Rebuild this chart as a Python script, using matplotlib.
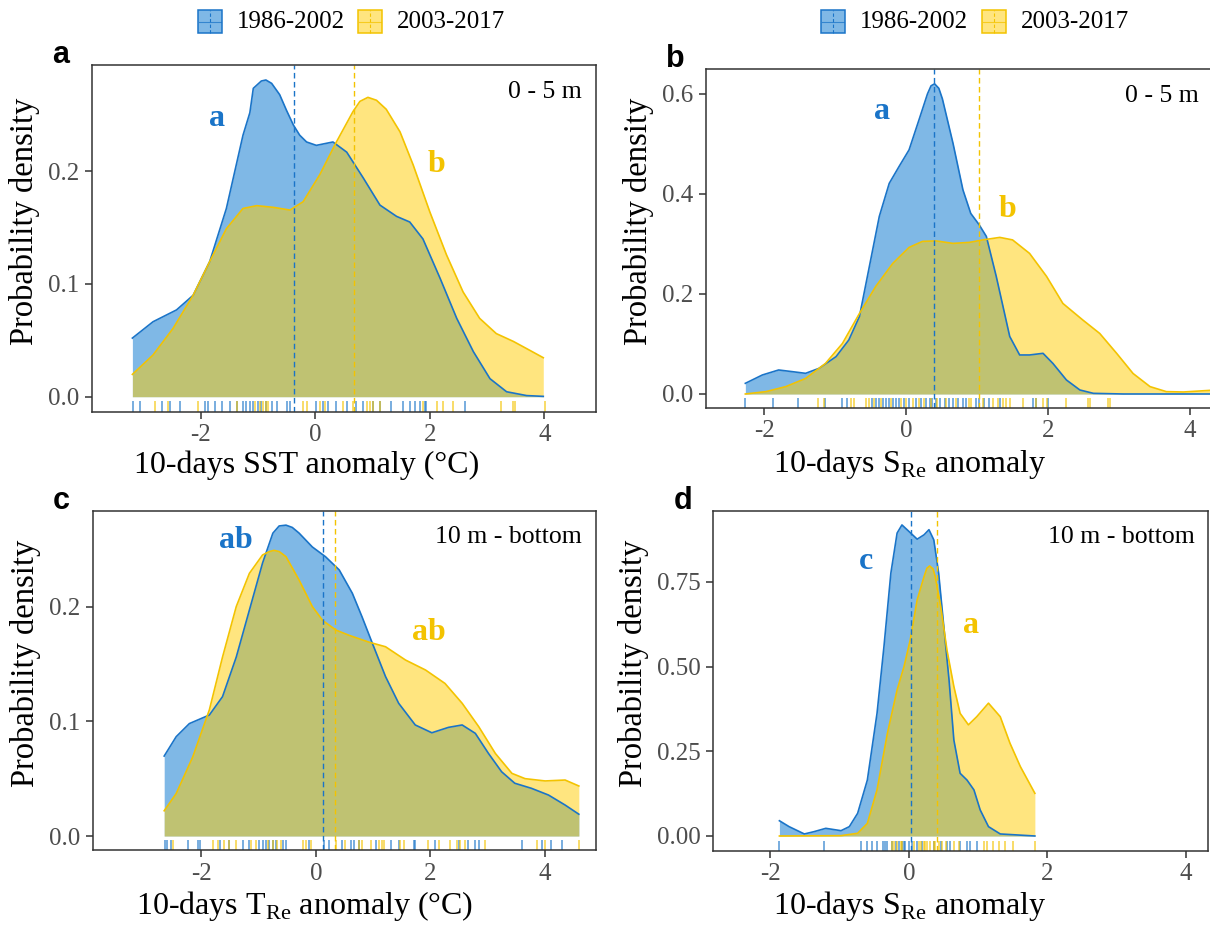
import numpy as np
import matplotlib
matplotlib.use("Agg")
import matplotlib.pyplot as plt
from matplotlib.patches import Rectangle
from matplotlib.lines import Line2D

plt.rcParams['font.family'] = ['Liberation Serif', 'DejaVu Serif']
plt.rcParams['mathtext.fontset'] = 'custom'
plt.rcParams['mathtext.rm'] = 'Liberation Serif'
plt.rcParams['axes.unicode_minus'] = False

periods = ['1986-2002', '2003-2017']

# --- a: SST, 0-5 m (density curves)
a_x_early = [-3.19, -2.83, -2.42, -2.13, -1.84, -1.55, -1.26, -1.14, -1.08, -0.94, -0.86, -0.76,
             -0.62, -0.50, -0.38, -0.27, -0.15, 0.02, 0.31, 0.55, 0.84, 1.13, 1.42, 1.65, 1.88,
             2.18, 2.47, 2.76, 3.05, 3.34, 3.69, 3.98]
a_y_early = [0.052, 0.0665, 0.077, 0.090, 0.120, 0.167, 0.232, 0.252, 0.2736, 0.2801, 0.281, 0.278,
             0.268, 0.254, 0.241, 0.232, 0.226, 0.223, 0.226, 0.217, 0.194, 0.170, 0.160, 0.155,
             0.140, 0.105, 0.0695, 0.040, 0.016, 0.0044, 0.001, 0.0003]
a_x_late = [-3.19, -2.83, -2.48, -2.13, -1.84, -1.55, -1.26, -1.02, -0.73, -0.44, -0.21, 0.08, 0.37,
            0.66, 0.78, 0.92, 1.07, 1.24, 1.48, 1.71, 2.00, 2.29, 2.58, 2.87, 3.16, 3.46, 3.75, 3.98]
a_y_late = [0.0198, 0.037, 0.0606, 0.090, 0.120, 0.149, 0.167, 0.1695, 0.168, 0.1656, 0.173, 0.197,
            0.226, 0.253, 0.262, 0.2656, 0.263, 0.255, 0.235, 0.2056, 0.164, 0.126, 0.093, 0.0695,
            0.056, 0.049, 0.041, 0.0346]
a_rug_early = [-3.18, -3.06, -2.68, -2.54, -2.36, -1.93, -1.87, -1.75, -1.63, -1.49, -1.37, -1.26,
               -1.20, -1.14, -1.08, -0.99, -0.94, -0.85, -0.76, -0.67, -0.50, -0.44, 0.02, 0.14,
               0.23, 0.37, 0.55, 0.72, 0.84, 1.01, 1.13, 1.33, 1.54, 1.65, 1.74, 1.83, 1.91, 1.94, 2.61]
a_rug_late = [-2.80, -2.57, -2.04, -1.37, -1.05, -0.97, -0.91, -0.85, -0.82, -0.21, -0.15, 0.08,
              0.17, 0.49, 0.66, 0.90, 0.95, 1.01, 1.13, 1.88, 2.12, 2.23, 2.41, 3.25, 3.46, 3.48, 4.01]
a_means = [-0.37, 0.68]

# --- b: S_Re, 0-5 m
b_x_early = [-2.27, -2.03, -1.80, -1.61, -1.42, -1.23, -0.99, -0.81, -0.66, -0.52, -0.38, -0.24,
             -0.10, 0.04, 0.18, 0.30, 0.35, 0.40, 0.46, 0.51, 0.66, 0.80, 0.91, 1.03, 1.13, 1.27,
             1.46, 1.60, 1.74, 1.93, 2.07, 2.26, 2.45, 2.64, 3.06, 4.29]
b_y_early = [0.0213, 0.038, 0.048, 0.0447, 0.0413, 0.0513, 0.0747, 0.108, 0.155, 0.255, 0.355, 0.421,
             0.455, 0.488, 0.548, 0.600, 0.616, 0.620, 0.611, 0.590, 0.501, 0.408, 0.361, 0.338,
             0.315, 0.235, 0.115, 0.078, 0.078, 0.0813, 0.061, 0.028, 0.008, 0.0013, 0.0, 0.0]
b_x_late = [-2.27, -1.98, -1.70, -1.42, -1.14, -0.90, -0.66, -0.43, -0.19, 0.04, 0.23, 0.42, 0.66,
            0.89, 1.08, 1.32, 1.50, 1.74, 1.98, 2.21, 2.49, 2.73, 2.97, 3.20, 3.44, 3.67, 3.91, 4.14, 4.29]
b_y_late = [0.0, 0.0047, 0.0147, 0.031, 0.061, 0.101, 0.161, 0.215, 0.261, 0.293, 0.305, 0.306, 0.301,
            0.303, 0.308, 0.313, 0.308, 0.281, 0.235, 0.181, 0.148, 0.121, 0.081, 0.041, 0.0147,
            0.0047, 0.004, 0.006, 0.0073]
b_rug_early = [-2.27, -1.88, -1.52, -1.15, -0.91, -0.83, -0.48, -0.43, -0.38, -0.33, -0.29, -0.24,
               -0.19, -0.15, -0.10, -0.03, 0.04, 0.14, 0.21, 0.28, 0.33, 0.37, 0.42, 0.47, 0.54,
               0.61, 0.66, 0.73, 0.80, 0.84, 0.99, 1.03, 1.10, 1.17, 1.32, 1.79, 1.83, 2.00]
b_rug_late = [-1.24, -1.16, -0.78, -0.74, -0.57, -0.52, -0.45, -0.36, -0.22, -0.08, 0.0, 0.09, 0.18,
              0.25, 0.35, 0.44, 0.56, 0.70, 0.89, 0.91, 1.08, 1.22, 1.29, 1.36, 1.41, 1.46, 1.65,
              1.83, 1.93, 1.98, 2.26, 2.56, 2.59, 2.85, 2.87]
b_means = [0.39, 1.02]

# --- c: T_Re, 10 m - bottom
c_x_early = [-2.65, -2.44, -2.21, -1.86, -1.63, -1.39, -1.16, -0.93, -0.75, -0.64, -0.52, -0.41,
             -0.29, -0.06, 0.17, 0.41, 0.64, 0.81, 0.99, 1.22, 1.45, 1.74, 2.03, 2.32, 2.56, 2.79,
             3.02, 3.25, 3.48, 3.77, 4.07, 4.36, 4.60]
c_y_early = [0.0697, 0.0866, 0.098, 0.1055, 0.1215, 0.156, 0.197, 0.238, 0.264, 0.2703, 0.271, 0.269,
             0.264, 0.252, 0.2435, 0.232, 0.2116, 0.191, 0.168, 0.139, 0.1157, 0.0968, 0.090,
             0.0947, 0.0968, 0.0895, 0.072, 0.056, 0.046, 0.0416, 0.0357, 0.027, 0.019]
c_x_late = [-2.65, -2.44, -2.15, -1.86, -1.63, -1.39, -1.16, -0.93, -0.81, -0.73, -0.64, -0.52, -0.29,
            -0.06, 0.12, 0.35, 0.58, 0.93, 1.22, 1.57, 1.92, 2.26, 2.56, 2.85, 3.14, 3.43, 3.66,
            4.01, 4.36, 4.60]
c_y_late = [0.022, 0.037, 0.069, 0.110, 0.156, 0.200, 0.229, 0.245, 0.248, 0.249, 0.248, 0.2435,
            0.223, 0.200, 0.188, 0.1796, 0.175, 0.169, 0.165, 0.1534, 0.1447, 0.133, 0.1157,
            0.0953, 0.072, 0.0546, 0.050, 0.048, 0.0488, 0.0436]
c_rug_early = [-2.64, -2.60, -2.53, -2.24, -2.06, -2.03, -1.68, -1.51, -1.28, -1.16, -0.99, -0.93,
               -0.87, -0.81, -0.75, -0.70, -0.58, -0.52, -0.12, 0.15, 0.23, 0.46, 0.61, 0.67, 0.75,
               1.05, 1.31, 1.45, 1.71, 1.74, 2.09, 2.50, 2.67, 2.79, 2.85, 3.60, 3.95, 4.12, 4.30]
c_rug_late = [-2.49, -1.80, -1.71, -1.60, -1.51, -1.39, -1.13, -1.05, -0.84, -0.75, -0.67, -0.61,
              -0.23, -0.17, -0.09, 0.35, 0.52, 0.75, 0.81, 0.96, 1.10, 1.16, 1.19, 1.48, 1.54,
              1.97, 2.15, 2.35, 2.47, 2.53, 2.61, 2.96, 3.86, 4.01, 4.60]
c_means = [0.13, 0.34]

# --- d: S_Re, 10 m - bottom
d_x_early = [-1.87, -1.73, -1.51, -1.37, -1.20, -0.98, -0.86, -0.74, -0.60, -0.46, -0.36, -0.26,
             -0.17, -0.10, 0.0, 0.12, 0.22, 0.29, 0.36, 0.43, 0.50, 0.58, 0.65, 0.74, 0.84, 0.94,
             1.03, 1.15, 1.32, 1.82]
d_y_early = [0.045, 0.0276, 0.006, 0.0128, 0.0226, 0.0157, 0.0276, 0.067, 0.165, 0.362, 0.559, 0.776,
             0.894, 0.918, 0.899, 0.876, 0.889, 0.904, 0.874, 0.776, 0.628, 0.461, 0.283, 0.185,
             0.165, 0.136, 0.077, 0.0276, 0.006, 0.0]
d_x_late = [-1.87, -0.98, -0.74, -0.60, -0.46, -0.31, -0.17, -0.07, 0.02, 0.12, 0.22, 0.26, 0.30,
            0.35, 0.38, 0.46, 0.55, 0.65, 0.74, 0.86, 0.98, 1.15, 1.32, 1.46, 1.61, 1.82]
d_y_late = [0.0, 0.001, 0.008, 0.037, 0.136, 0.303, 0.431, 0.500, 0.579, 0.697, 0.766, 0.790, 0.797,
            0.788, 0.766, 0.677, 0.549, 0.441, 0.362, 0.328, 0.352, 0.392, 0.352, 0.274, 0.205, 0.126]
d_rug_early = [-1.87, -1.22, -0.69, -0.60, -0.53, -0.46, -0.38, -0.34, -0.31, -0.24, -0.19, -0.14,
               -0.10, -0.07, -0.05, 0.0, 0.05, 0.12, 0.19, 0.36, 0.46, 0.55, 0.60, 0.74, 0.84, 0.89, 0.98]
d_rug_late = [-0.24, -0.22, -0.17, -0.12, -0.10, 0.07, 0.14, 0.17, 0.22, 0.24, 0.26, 0.31, 0.36,
              0.38, 0.43, 0.48, 0.53, 0.65, 0.72, 1.08, 1.13, 1.22, 1.30, 1.39, 1.51, 1.82]
d_means = [0.03, 0.41]

line_cols = ['#1a74c8', '#f3c300']
fill_cols = ['#0072ce', '#ffcd00']

W, H = 1210, 925


def px_box(l, r, t, b):
    return [l / W, 1 - b / H, (r - l) / W, (b - t) / H]


# axis titles are centred on the whole column, not on the panel
panels = [
    dict(tag='a', box=(91.7, 596, 65, 411.7), xlim=(-3.9, 4.9), ylim=(-0.0133, 0.2943),
         curves=[(a_x_early, a_y_early), (a_x_late, a_y_late)], rugs=[a_rug_early, a_rug_late],
         means=a_means, yticks=[0, 0.1, 0.2], ylabels=['0.0', '0.1', '0.2'],
         xlabel='10-days SST anomaly (°C)', depth='0 - 5 m', xlab_at=0.427,
         letters=[('a', -1.71, 0.247), ('b', 2.12, 0.206)]),
    dict(tag='b', box=(706, 1212.8, 69.3, 408), xlim=(-2.825, 4.325), ylim=(-0.028, 0.649),
         curves=[(b_x_early, b_y_early), (b_x_late, b_y_late)], rugs=[b_rug_early, b_rug_late],
         means=b_means, yticks=[0, 0.2, 0.4, 0.6], ylabels=['0.0', '0.2', '0.4', '0.6'],
         xlabel='10-days S$_{\\mathrm{Re}}$ anomaly', depth='0 - 5 m', xlab_at=0.402,
         letters=[('a', -0.34, 0.564), ('b', 1.43, 0.368)]),
    dict(tag='c', box=(92.7, 596, 510.7, 850), xlim=(-3.9, 4.9), ylim=(-0.0122, 0.2836),
         curves=[(c_x_early, c_y_early), (c_x_late, c_y_late)], rugs=[c_rug_early, c_rug_late],
         means=c_means, yticks=[0, 0.1, 0.2], ylabels=['0.0', '0.1', '0.2'],
         xlabel='10-days T$_{\\mathrm{Re}}$ anomaly (°C)', depth='10 m - bottom', xlab_at=0.422,
         letters=[('ab', -1.39, 0.258), ('ab', 1.97, 0.177)]),
    dict(tag='d', box=(713.3, 1208.3, 510.7, 850.7), xlim=(-2.825, 4.325), ylim=(-0.0434, 0.960),
         curves=[(d_x_early, d_y_early), (d_x_late, d_y_late)], rugs=[d_rug_early, d_rug_late],
         means=d_means, yticks=[0, 0.25, 0.5, 0.75], ylabels=['0.00', '0.25', '0.50', '0.75'],
         xlabel='10-days S$_{\\mathrm{Re}}$ anomaly', depth='10 m - bottom', xlab_at=0.397,
         letters=[('c', -0.62, 0.809), ('a', 0.90, 0.620)]),
]

fig = plt.figure(figsize=(W / 100, H / 100), dpi=100)

for p in panels:
    ax = fig.add_axes(px_box(*p['box']))
    for i, (xs, ys) in enumerate(p['curves']):
        ax.fill_between(xs, ys, 0, color=fill_cols[i], alpha=0.5, lw=0)
        ax.plot(xs, ys, color=line_cols[i], lw=1.2, solid_joinstyle='round')
    for i, r in enumerate(p['rugs']):
        ax.vlines(r, 0, 0.03, transform=ax.get_xaxis_transform(), colors=line_cols[i],
                  alpha=0.75, lw=1.1)
    for i, m in enumerate(p['means']):
        ax.axvline(m, color=line_cols[i], ls=(0, (4, 2.5)), lw=1.0)
    for i, (s, lx, ly) in enumerate(p['letters']):
        ax.text(lx, ly, s, color=line_cols[i], fontsize=23, fontweight='bold',
                ha='center', va='center')
    ax.text(0.972, 0.955, p['depth'], transform=ax.transAxes, ha='right', va='top', fontsize=18.5)
    ax.set_xlim(*p['xlim'])
    ax.set_ylim(*p['ylim'])
    ax.set_xticks([-2, 0, 2, 4])
    ax.set_xticklabels(['-2', '0', '2', '4'])
    ax.set_yticks(p['yticks'])
    ax.set_yticklabels(p['ylabels'])
    for sp in ax.spines.values():
        sp.set_color('#333333')
        sp.set_linewidth(1.1)
    ax.tick_params(length=5, width=1.1, color='#333333', labelcolor='#4d4d4d',
                   labelsize=18, pad=4)
    ax.set_xlabel(p['xlabel'], fontsize=23, labelpad=3, x=p['xlab_at'])
    ax.set_ylabel('Probability density', fontsize=23.5, labelpad=6, y=0.55)
    l, r, t, b = p['box']
    fig.text((l - 40) / W, 1 - (t - 2) / H, p['tag'], family='Liberation Sans',
             fontweight='bold', fontsize=22, ha='left', va='baseline')

# legends above each column
for x0 in (197.7, 821):
    for i, lab in enumerate(periods):
        bx = x0 + i * 160.5
        fig.patches.append(Rectangle((bx / W, 1 - 33.3 / H), 24 / W, 23.3 / H,
                                     transform=fig.transFigure, facecolor=fill_cols[i],
                                     alpha=0.5, edgecolor='none'))
        fig.patches.append(Rectangle((bx / W, 1 - 33.3 / H), 24 / W, 23.3 / H,
                                     transform=fig.transFigure, facecolor='none',
                                     edgecolor=line_cols[i], lw=1.1))
        fig.lines.append(Line2D([(bx + 12) / W] * 2, [1 - 33 / H, 1 - 10.3 / H],
                                transform=fig.transFigure, color=line_cols[i], lw=0.8,
                                ls=(0, (3, 2))))
        fig.lines.append(Line2D([(bx + 1) / W, (bx + 23) / W], [1 - 21.7 / H] * 2,
                                transform=fig.transFigure, color=line_cols[i], lw=0.8,
                                alpha=0.75))
        fig.text((bx + 39) / W, 1 - 21.7 / H, lab, fontsize=18, ha='left', va='center')

fig.savefig('out.png', dpi=100)
